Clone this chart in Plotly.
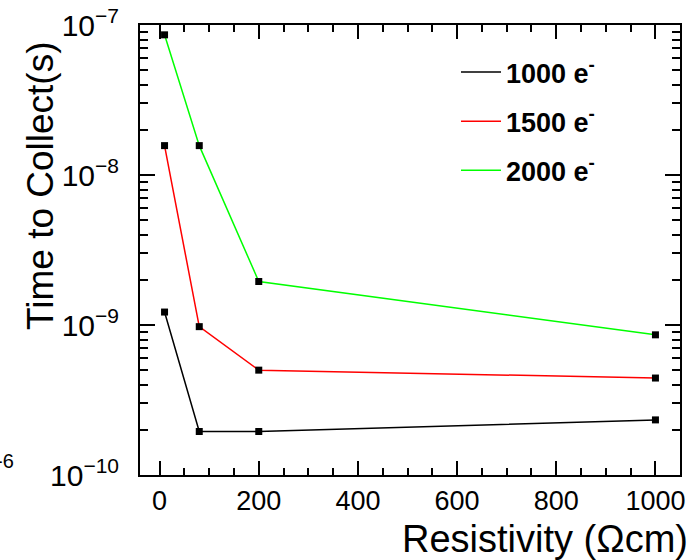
import plotly.graph_objects as go

# Collection time vs. resistivity for three signal charges
resistivity = [10, 80, 200, 1000]
t_1000e = [1.22e-9, 1.95e-10, 1.95e-10, 2.33e-10]
t_1500e = [1.57e-8, 9.75e-10, 5.0e-10, 4.43e-10]
t_2000e = [8.6e-8, 1.57e-8, 1.95e-9, 8.6e-10]

series = [
    ("1000 e<sup>-</sup>", t_1000e, "#000000"),
    ("1500 e<sup>-</sup>", t_1500e, "#ff0000"),
    ("2000 e<sup>-</sup>", t_2000e, "#00ff00"),
]

y_major = [1e-10, 1e-9, 1e-8, 1e-7]
y_major_text = ["10<sup>\u221210</sup>", "10<sup>\u22129</sup>",
                "10<sup>\u22128</sup>", "10<sup>\u22127</sup>"]
y_minor = [m * d for d in (1e-10, 1e-9, 1e-8) for m in range(2, 10)]
x_minor = list(range(-0, 1050, 50))

FONT = "Liberation Sans, Arial, Helvetica, sans-serif"

fig = go.Figure()
for i, (name, vals, col) in enumerate(series):
    fig.add_trace(go.Scatter(
        x=resistivity, y=vals, mode="lines", name="<b>" + name + "</b>",
        line=dict(color=col, width=1.5), legendgroup=f"g{i}",
    ))
# markers on the overlay axes (identical ranges) which carry the minor ticks
for name, vals, col in series:
    fig.add_trace(go.Scatter(
        x=resistivity, y=vals, mode="markers", showlegend=False,
        marker=dict(symbol="square", size=7, color="black"),
        xaxis="x2", yaxis="y2",
    ))

L, R, T, B = 140, 18, 25, 85
W, H = 698, 560
pw, ph = W - L - R, H - T - B


def px_x(p):
    return (p - L) / pw


def px_y(p):
    return (H - B - p) / ph


XR = [-39.5, 1049.5]
YR = [-10, -7]

fig.update_layout(
    width=W, height=H,
    margin=dict(l=L, r=R, t=T, b=B, autoexpand=False),
    paper_bgcolor="white", plot_bgcolor="white",
    font=dict(family=FONT, color="black"),
    showlegend=True,
    legend=dict(
        x=px_x(456), y=px_y(48), xanchor="left", yanchor="top",
        bgcolor="rgba(0,0,0,0)", borderwidth=0,
        font=dict(family=FONT, size=27, color="black"),
        tracegroupgap=11, itemwidth=40,
    ),
    xaxis=dict(
        range=XR, showgrid=False, zeroline=False,
        showline=True, linecolor="black", linewidth=2, mirror="ticks",
        ticks="inside", ticklen=14, tickwidth=2, tickcolor="black",
        tick0=0, dtick=200, ticklabelstandoff=1,
        tickfont=dict(family=FONT, size=27, color="black"),
    ),
    yaxis=dict(
        type="log", range=YR, showgrid=False, zeroline=False,
        showline=True, linecolor="black", linewidth=2, mirror="ticks",
        ticks="inside", ticklen=15, tickwidth=2, tickcolor="black",
        tickvals=y_major, ticktext=y_major_text, ticklabelstandoff=13,
        tickfont=dict(family=FONT, size=30, color="black"),
    ),
    xaxis2=dict(
        overlaying="x", anchor="y", range=XR, showgrid=False, zeroline=False,
        showline=False, mirror="ticks", ticks="inside", ticklen=7,
        tickwidth=2, tickcolor="black", tickvals=x_minor,
        showticklabels=False,
    ),
    yaxis2=dict(
        overlaying="y", anchor="x", type="log", range=YR, showgrid=False,
        zeroline=False, showline=False, mirror="ticks", ticks="inside",
        ticklen=8, tickwidth=2, tickcolor="black", tickvals=y_minor,
        showticklabels=False,
    ),
    annotations=[
        dict(text="Resistivity (\u03a9cm)", xref="paper", yref="paper",
             x=px_x(690), y=px_y(539), xanchor="right", yanchor="middle",
             showarrow=False, font=dict(family=FONT, size=38, color="black")),
        dict(text="Time to Collect(s)", xref="paper", yref="paper",
             x=px_x(40), y=px_y(186), xanchor="center", yanchor="middle",
             textangle=-90, showarrow=False,
             font=dict(family=FONT, size=37, color="black")),
        dict(text="-6", xref="paper", yref="paper",
             x=px_x(16), y=px_y(461), xanchor="right", yanchor="middle",
             showarrow=False, font=dict(family=FONT, size=20, color="black")),
    ],
)

fig.write_html("out.html")
